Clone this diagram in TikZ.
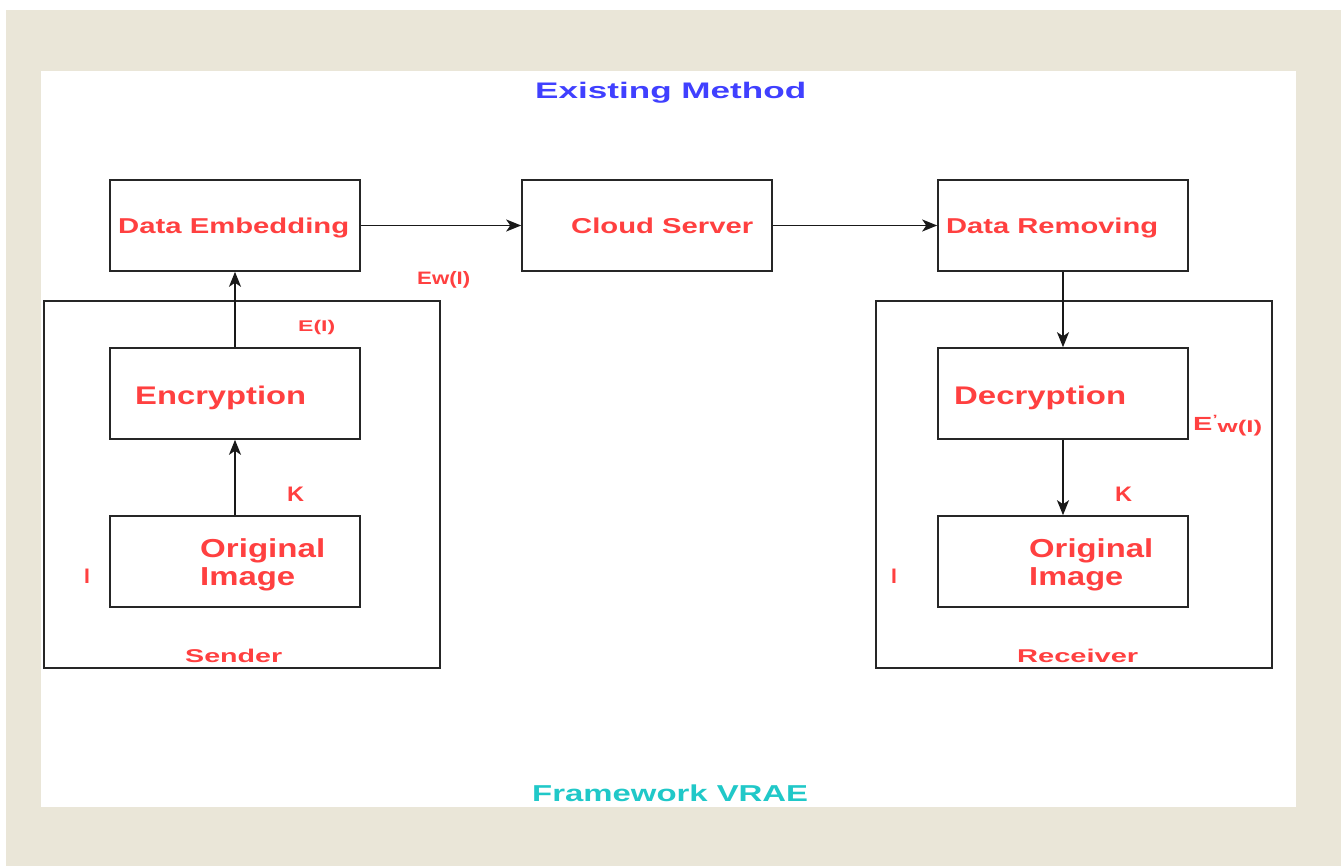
\documentclass[tikz,border=0pt]{standalone}
\usepackage{fontspec}
\setmainfont{Liberation Sans}
\usepackage{graphicx}
\usetikzlibrary{arrows.meta}
\definecolor{bg}{RGB}{234,230,216}
\definecolor{tred}{RGB}{255,64,64}
\definecolor{tblue}{RGB}{64,64,255}
\definecolor{tcyan}{RGB}{32,200,200}
\newcommand{\fitw}[2]{\resizebox{#1pt}{\height}{#2}}
\newcommand{\fs}[1]{\fontsize{#1}{#1}\selectfont\bfseries}
\begin{document}
\begin{tikzpicture}[x=1pt,y=-1pt,
  box/.style={draw=black!85,line width=1.6pt,inner sep=0pt,minimum width=250pt,minimum height=91pt},
  frame/.style={draw=black!85,line width=1.6pt,inner sep=0pt,minimum width=396pt,minimum height=367pt},
  lbl/.style={inner sep=0pt,anchor=base west,text=tred},
  arr/.style={-{Stealth[length=15pt,width=12pt,inset=4pt]},line width=1.6pt,black!90}]
\useasboundingbox (0,0) rectangle (1341,866);
\fill[white] (0,0) rectangle (1341,866);
\fill[bg] (6,10) rectangle (1341,866);
\fill[white] (41,71) rectangle (1296,807);
% containers
\node[frame] (sender) at (242,484.5) {};
\node[frame] (receiver) at (1074,484.5) {};
% boxes
\node[box] (de) at (235,225.5) {};
\node[box] (cs) at (647,225.5) {};
\node[box] (dr) at (1063,225.5) {};
\node[box] (enc) at (235,393.5) {};
\node[box] (oi1) at (235,561.5) {};
\node[box] (dec) at (1063,393.5) {};
\node[box] (oi2) at (1063,561.5) {};
% arrows
\draw[arr] (de.east) -- (cs.west);
\draw[arr] (cs.east) -- (dr.west);
\draw[arr] (enc.north) -- (de.south);
\draw[arr] (oi1.north) -- (enc.south);
\draw[arr] (dr.south) -- (dec.north);
\draw[arr] (dec.south) -- (oi2.north);
% titles
\node[lbl,text=tblue] (title) at (535,99) {\fs{22.5}\fitw{271}{Existing Method}};
\node[lbl,text=tcyan] (foot) at (532,801) {\fs{23}\fitw{276}{Framework VRAE}};
% box texts
\node[lbl] (tde) at (118,234) {\fs{21.5}\fitw{231}{Data Embedding}};
\node[lbl] (tcs) at (571,234) {\fs{21.5}\fitw{182}{Cloud Server}};
\node[lbl] (tdr) at (946,234) {\fs{21.5}\fitw{212}{Data Removing}};
\node[lbl] (tenc) at (135,404) {\fs{25.5}\fitw{171}{Encryption}};
\node[lbl] (tdec) at (954,404) {\fs{25.5}\fitw{172}{Decryption}};
\node[lbl] (to1) at (200,557) {\fs{26}\fitw{125}{Original}};
\node[lbl] (ti1) at (200,585) {\fs{26}\fitw{95}{Image}};
\node[lbl] (to2) at (1029,557) {\fs{26}\fitw{124}{Original}};
\node[lbl] (ti2) at (1029,585) {\fs{26}\fitw{94}{Image}};
% small labels
\node[lbl] (ew) at (417,285) {\fs{18}\fitw{53}{Ew(I)}};
\node[lbl] (ei) at (298,332) {\fs{15.5}\fitw{37}{E(I)}};
\node[lbl] (k1) at (287,501) {\fs{21}\fitw{17}{K}};
\node[lbl] (k2) at (1115,501) {\fs{21}\fitw{17}{K}};
\node[lbl] (i1) at (84,583) {\fs{21}I};
\node[lbl] (i2) at (891,583) {\fs{21}I};
\node[lbl] (snd) at (185,662) {\fs{18.5}\fitw{97}{Sender}};
\node[lbl] (rcv) at (1017,662) {\fs{18.5}\fitw{121}{Receiver}};
\node[lbl] (ewp) at (1193,430) {\fs{19}\fitw{69}{E\raisebox{7pt}{\fontsize{12}{12}\selectfont\bfseries '}\raisebox{-2.5pt}{\fontsize{17}{17}\selectfont\bfseries w(I)}}};
\end{tikzpicture}
\end{document}
